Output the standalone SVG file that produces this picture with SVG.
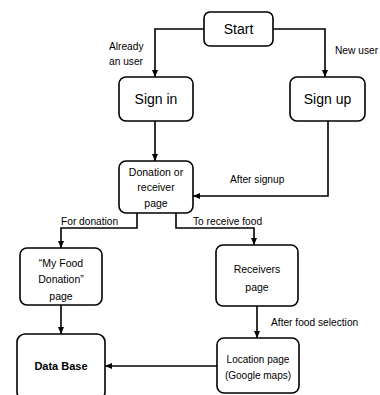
<svg xmlns="http://www.w3.org/2000/svg" width="380" height="395" viewBox="0 0 380 395">
<defs>
<marker id="ah" markerWidth="8" markerHeight="8" refX="7" refY="4" orient="auto" markerUnits="userSpaceOnUse">
<path d="M0,1 L7,4 L0,7 z" fill="#000"/>
</marker>
<style>
.box{fill:#fff;stroke:#000;stroke-width:1.6}
.c{fill:none;stroke:#000;stroke-width:1.6;marker-end:url(#ah)}
text{font-family:"Liberation Sans",Arial,sans-serif;fill:#000}
.big{font-size:14px;text-anchor:middle}
.mid{font-size:10.5px;text-anchor:middle}
.lbl{font-size:10.2px}
</style>
</defs>
<rect width="380" height="395" fill="#fff"/>
<g id="connectors">
<path class="c" d="M204,29 H155 V77"/>
<path class="c" d="M273,29 H325 V77"/>
<path class="c" d="M155,121 V161"/>
<path class="c" d="M328,121 V196 H193"/>
<path class="c" d="M137,213 V228 H61 V248"/>
<path class="c" d="M176,213 V228 H254 V245"/>
<path class="c" d="M61,305 V334"/>
<path class="c" d="M257,306 V338"/>
<path class="c" d="M217,366 H105"/>
<text class="lbl" x="109" y="50">Already</text>
<text class="lbl" x="109" y="65">an user</text>
<text class="lbl" x="335" y="54">New user</text>
<text class="lbl" x="230" y="183">After signup</text>
<text class="lbl" x="61" y="225">For donation</text>
<text class="lbl" x="193" y="225">To receive food</text>
<text class="lbl" x="271" y="326">After food selection</text>
</g>
<g id="start">
<rect class="box" x="204" y="12" width="69" height="34" rx="6"/>
<text class="big" x="238.5" y="34">Start</text>
</g>
<g id="signin">
<rect class="box" x="119" y="77" width="74" height="44" rx="7"/>
<text class="big" x="156" y="104">Sign in</text>
</g>
<g id="signup">
<rect class="box" x="290" y="77" width="75" height="44" rx="7"/>
<text class="big" x="327.5" y="104">Sign up</text>
</g>
<g id="donation-receiver">
<rect class="box" x="119" y="161" width="74" height="52" rx="7"/>
<text class="mid" x="156" y="176">Donation or</text>
<text class="mid" x="156" y="191">receiver</text>
<text class="mid" x="156" y="207">page</text>
</g>
<g id="my-food-donation">
<rect class="box" x="20" y="248" width="82" height="57" rx="7"/>
<text class="mid" x="61" y="267">“My Food</text>
<text class="mid" x="61" y="283">Donation”</text>
<text class="mid" x="61" y="300">page</text>
</g>
<g id="receivers">
<rect class="box" x="216" y="245" width="82" height="61" rx="7"/>
<text class="mid" x="257" y="273">Receivers</text>
<text class="mid" x="257" y="291">page</text>
</g>
<g id="database">
<rect class="box" x="17" y="334" width="88" height="66" rx="8"/>
<text x="61" y="370" font-size="11px" font-weight="bold" text-anchor="middle">Data Base</text>
</g>
<g id="location">
<rect class="box" x="217" y="338" width="82" height="55" rx="7"/>
<text x="258" y="363" font-size="10px" text-anchor="middle">Location page</text>
<text x="258" y="379" font-size="10px" text-anchor="middle">(Google maps)</text>
</g>
</svg>
